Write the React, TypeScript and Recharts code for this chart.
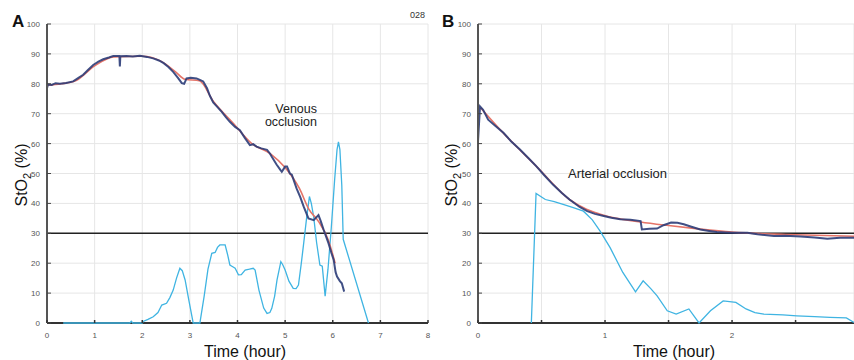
import { CartesianGrid, Line, LineChart, ReferenceLine, XAxis, YAxis } from "recharts";

const FONT = '"Liberation Sans", Arial, sans-serif';

// [hour, StO2 %]
const venousSto: [number, number][] = [
	[0, 78.5], [0.02, 79.8], [0.1, 79.6], [0.18, 80.2], [0.27, 80], [0.4, 80.3], [0.55, 80.8],
	[0.66, 82], [0.76, 83], [0.86, 84.6], [0.97, 86.3], [1.08, 87.4], [1.18, 88.2], [1.3, 88.8],
	[1.39, 89.3], [1.52, 89.3], [1.53, 85.8], [1.54, 89.2], [1.67, 89.3], [1.8, 89.1], [1.95, 89.4],
	[2.1, 89], [2.23, 88.5], [2.35, 87.8], [2.45, 86.9], [2.55, 85.6], [2.65, 84], [2.75, 82],
	[2.83, 80.2], [2.88, 80], [2.93, 81.8], [3.02, 82], [3.14, 81.8], [3.21, 81.3], [3.28, 80.8],
	[3.36, 78.5], [3.42, 76], [3.49, 73.8], [3.58, 72.2], [3.67, 70.6], [3.76, 68.8], [3.84, 67.3],
	[3.95, 65.6], [4.05, 64.5], [4.15, 62], [4.26, 59.5], [4.33, 59.8], [4.4, 59], [4.5, 58.4],
	[4.62, 57.9], [4.68, 56.7], [4.72, 55.6], [4.82, 53], [4.9, 51.2], [4.93, 50.6], [5.0, 52.3],
	[5.04, 52.3], [5.1, 50], [5.14, 49.6], [5.24, 45], [5.32, 42], [5.39, 38.9], [5.49, 35],
	[5.6, 34.4], [5.7, 36.1], [5.75, 34], [5.81, 31.1], [5.91, 26.7], [5.97, 23.5], [6.02, 21.1],
	[6.06, 17], [6.09, 15.5], [6.15, 14], [6.19, 13.3], [6.24, 10.5],
];

const venousFit: [number, number][] = [
	[0, 79.5], [0.3, 80], [0.6, 81], [1.0, 86], [1.4, 89], [2.0, 89.2], [2.4, 87.5], [2.7, 84],
	[2.9, 81.5], [3.2, 81], [3.5, 74], [3.9, 67], [4.3, 60], [4.7, 56.5], [5.0, 52], [5.3, 45],
	[5.5, 38], [5.7, 34], [5.9, 28], [6.05, 20],
];

const venousCyan: [number, number][] = [
	[0.34, 0], [1.74, 0], [1.77, 0.6], [1.8, 0], [2.0, 0], [2.02, 0.5], [2.12, 1.2], [2.23, 2.1],
	[2.33, 3.5], [2.41, 6], [2.51, 6.6], [2.58, 8.5], [2.65, 11], [2.72, 15], [2.79, 18.3],
	[2.84, 17.5], [2.9, 14.4], [2.98, 7.5], [3.07, 0], [3.21, 0], [3.3, 9], [3.38, 18],
	[3.46, 23.3], [3.53, 23.6], [3.58, 25.3], [3.63, 26.1], [3.74, 26.1], [3.79, 23], [3.84, 19.4],
	[3.9, 18.8], [3.95, 18.3], [4.02, 16.1], [4.08, 16.2], [4.16, 17.7], [4.25, 18], [4.33, 18.3],
	[4.37, 17.7], [4.45, 11], [4.55, 5], [4.62, 3.2], [4.68, 3.5], [4.72, 4.9], [4.78, 9],
	[4.83, 14.4], [4.91, 20.5], [4.95, 19.5], [5.0, 17.7], [5.08, 14], [5.17, 11.6], [5.23, 11.5],
	[5.28, 12.7], [5.34, 20], [5.39, 26.7], [5.45, 35], [5.51, 42.3], [5.55, 40], [5.6, 35.5],
	[5.66, 27], [5.73, 19.4], [5.78, 19], [5.84, 9], [5.9, 18], [5.97, 32], [6.04, 48], [6.09, 58],
	[6.12, 60.6], [6.15, 58], [6.19, 46], [6.22, 28], [6.75, 0],
];

const arterialSto: [number, number][] = [
	[0, 60.8], [0.016, 72.4], [0.04, 71.3], [0.08, 68], [0.14, 65.8], [0.2, 63.6], [0.26, 60.8],
	[0.33, 58], [0.4, 55], [0.46, 52.4], [0.52, 49.5], [0.59, 46.3], [0.66, 43.5], [0.72, 41.3],
	[0.8, 38.8], [0.86, 37.4], [0.92, 36.5], [0.99, 35.8], [1.05, 35.2], [1.12, 34.7], [1.2, 34.5],
	[1.28, 34.1], [1.29, 31.3], [1.35, 31.5], [1.41, 31.6], [1.46, 32.7], [1.52, 33.6], [1.57, 33.5],
	[1.62, 33], [1.68, 32.2], [1.75, 31.3], [1.82, 30.8], [1.88, 30.4], [1.95, 30.3], [2.01, 30.2],
	[2.12, 30.2], [2.2, 29.7], [2.33, 29.1], [2.42, 29.2], [2.54, 28.9], [2.65, 28.6], [2.75, 28.2],
	[2.85, 28.5], [2.96, 28.5],
];

const arterialFit: [number, number][] = [
	[0.02, 72], [0.2, 63.5], [0.46, 52.4], [0.72, 41.3], [0.99, 36], [1.28, 33.8], [1.5, 32.6],
	[1.75, 31.4], [2.0, 30.4], [2.5, 29.5], [2.96, 29],
];

const arterialCyan: [number, number][] = [
	[0.42, 0], [0.457, 43.3], [0.53, 41.3], [0.6, 40.6], [0.67, 39.7], [0.75, 38.6], [0.83, 37.4],
	[0.9, 34.5], [0.96, 30.8], [1.04, 25.2], [1.14, 16.9], [1.24, 10.4], [1.3, 14.1], [1.36, 11.5],
	[1.41, 9.1], [1.49, 4.1], [1.56, 3], [1.66, 4.7], [1.74, 0], [1.83, 4.1], [1.93, 7.4],
	[2.03, 6.9], [2.11, 4.7], [2.18, 3.5], [2.25, 3], [2.4, 2.7], [2.51, 2.4], [2.65, 2.1],
	[2.77, 1.9], [2.9, 1.7], [2.96, 0.2],
];

const yTicks = [0, 10, 20, 30, 40, 50, 60, 70, 80, 90, 100];
const hourTicksA = [0, 1, 2, 3, 4, 5, 6, 7, 8];
const hourTicksB = [0, 0.5, 1, 1.5, 2, 2.5];

const toRows = (pts: [number, number][]) => pts.map(([h, v]) => ({ h, v }));

const NAVY = "#2b3c78";
const RED = "#e57468";
const CYAN = "#3fb4e2";

const PLOT_TOP = 24;
const PLOT_BOTTOM = 323;

function YTick(axisX: number) {
	return (props: any) => (
		<g>
			<line x1={axisX} x2={axisX + 4} y1={props.y} y2={props.y} stroke="#444" strokeWidth={1} />
			<text x={axisX - 7} y={props.y} dy={3} textAnchor="end" fontSize={8} fill="#555" fontFamily={FONT}>
				{props.payload.value}
			</text>
		</g>
	);
}

function XTick(props: any) {
	const v = props.payload.value as number;
	return (
		<g>
			<line x1={props.x} x2={props.x} y1={PLOT_BOTTOM} y2={PLOT_BOTTOM - 3} stroke="#333" strokeWidth={1.5} />
			{Number.isInteger(v) && (
				<text x={props.x} y={PLOT_BOTTOM + 15} textAnchor="middle" fontSize={8} fill="#555" fontFamily={FONT}>
					{v}
				</text>
			)}
		</g>
	);
}

type PanelProps = {
	width: number;
	right: number;
	yAxisWidth: number;
	domain: [number, number];
	ticks: number[];
	sto: [number, number][];
	fit: [number, number][];
	cyan: [number, number][];
};

function Panel({ width, right, yAxisWidth, domain, ticks, sto, fit, cyan }: PanelProps) {
	return (
		<LineChart width={width} height={360} margin={{ top: PLOT_TOP, right, bottom: 0, left: 0 }}>
			<CartesianGrid stroke="#e6e6e6" strokeWidth={1} />
			<XAxis
				type="number"
				dataKey="h"
				domain={domain}
				ticks={ticks}
				allowDataOverflow
				height={360 - PLOT_BOTTOM}
				axisLine={false}
				tickLine={false}
				tick={XTick}
				interval={0}
			/>
			<YAxis
				type="number"
				domain={[0, 100]}
				ticks={yTicks}
				width={yAxisWidth}
				axisLine={{ stroke: "#555", strokeWidth: 2 }}
				tickLine={false}
				tick={YTick(yAxisWidth)}
				interval={0}
			/>
			<ReferenceLine y={0} stroke="#333" strokeWidth={2} />
			<ReferenceLine y={30} stroke="#222" strokeWidth={1.5} />
			<Line data={toRows(cyan)} dataKey="v" type="linear" dot={false} stroke={CYAN} strokeWidth={1.3} isAnimationActive={false} />
			<Line data={toRows(fit)} dataKey="v" type="monotone" dot={false} stroke={RED} strokeWidth={1.6} isAnimationActive={false} />
			<Line data={toRows(sto)} dataKey="v" type="linear" dot={false} stroke={NAVY} strokeWidth={2} strokeOpacity={0.9} isAnimationActive={false} />
		</LineChart>
	);
}

function YLabel({ x }: { x: number }) {
	return (
		<text x={x} y={175} transform={`rotate(-90, ${x}, 175)`} textAnchor="middle" fontSize={16} fill="#111" fontFamily={FONT}>
			<tspan>StO</tspan>
			<tspan fontSize={11} dy={4}>2</tspan>
			<tspan dy={-4}> (%)</tspan>
		</text>
	);
}

export default function App() {
	return (
		<div style={{ position: "absolute", left: 0, top: 0, width: 854, height: 360, background: "#fff", overflow: "hidden" }}>
			<div style={{ position: "absolute", left: 0, top: 0 }}>
				<Panel width={432} right={4} yAxisWidth={47} domain={[0, 8]} ticks={hourTicksA} sto={venousSto} fit={venousFit} cyan={venousCyan} />
			</div>
			<div style={{ position: "absolute", left: 432, top: 0 }}>
				<Panel width={422} right={0} yAxisWidth={46} domain={[0, 2.96]} ticks={hourTicksB} sto={arterialSto} fit={arterialFit} cyan={arterialCyan} />
			</div>
			<svg width={854} height={360} style={{ position: "absolute", left: 0, top: 0, pointerEvents: "none" }}>
				<text x={12} y={27} fontSize={17} fontWeight="bold" fill="#111" fontFamily={FONT}>A</text>
				<text x={442} y={27} fontSize={17} fontWeight="bold" fill="#111" fontFamily={FONT}>B</text>
				<text x={410} y={18} fontSize={9} fill="#333" fontFamily={FONT}>028</text>
				<YLabel x={27} />
				<YLabel x={457} />
				<text x={245} y={357} textAnchor="middle" fontSize={16} fill="#111" fontFamily={FONT}>Time (hour)</text>
				<text x={674} y={357} textAnchor="middle" fontSize={16} fill="#111" fontFamily={FONT}>Time (hour)</text>
				<text x={317} y={113} textAnchor="end" fontSize={12.5} fill="#222" fontFamily={FONT}>Venous</text>
				<text x={317} y={126} textAnchor="end" fontSize={12.5} fill="#222" fontFamily={FONT}>occlusion</text>
				<text x={568} y={178} fontSize={13} fill="#222" fontFamily={FONT}>Arterial occlusion</text>
			</svg>
		</div>
	);
}
